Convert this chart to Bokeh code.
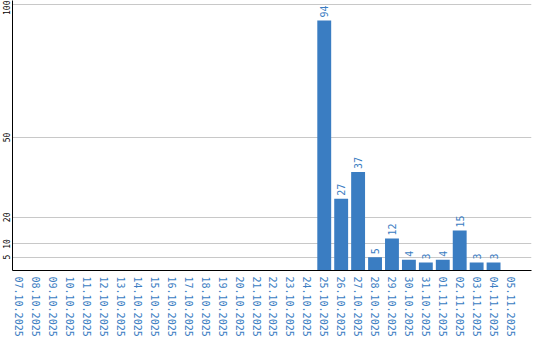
import math
from bokeh.plotting import figure
from bokeh.models import ColumnDataSource, FixedTicker, Range1d
from bokeh.core.properties import value
from bokeh.embed import file_html
from bokeh.resources import INLINE

dates = ["07.10.2025", "08.10.2025", "09.10.2025", "10.10.2025", "11.10.2025",
         "12.10.2025", "13.10.2025", "14.10.2025", "15.10.2025", "16.10.2025",
         "17.10.2025", "18.10.2025", "19.10.2025", "20.10.2025", "21.10.2025",
         "22.10.2025", "23.10.2025", "24.10.2025", "25.10.2025", "26.10.2025",
         "27.10.2025", "28.10.2025", "29.10.2025", "30.10.2025", "31.10.2025",
         "01.11.2025", "02.11.2025", "03.11.2025", "04.11.2025", "05.11.2025"]
counts = [0, 0, 0, 0, 0, 0, 0, 0, 0, 0, 0, 0, 0, 0, 0, 0, 0, 0,
          94, 27, 37, 5, 12, 4, 3, 4, 15, 3, 3, 0]
y_ticks = [5, 10, 20, 50, 100]

BLUE = "#3a7dc2"
FONT = "DejaVu Sans Mono"

idx = list(range(len(dates)))
src = ColumnDataSource(dict(x=idx, top=counts))
nz = [i for i in idx if counts[i] > 0]
lab = ColumnDataSource(dict(x=nz, y=[counts[i] for i in nz],
                            t=[str(counts[i]) for i in nz]))

p = figure(width=540, height=340, output_backend="svg", toolbar_location=None,
           x_range=Range1d(-0.41, 30.24), y_range=Range1d(0, 101.5),
           min_border_left=10, min_border_right=9, min_border_top=0,
           min_border_bottom=70)
p.outline_line_color = None
p.background_fill_color = "white"

p.vbar(x="x", top="top", width=0.82, source=src, color=BLUE, line_color=None)
p.text(x="x", y="y", text="t", source=lab, angle=math.pi / 2,
       text_align="left", text_baseline="middle", y_offset=-3,
       text_color=BLUE, text_font=value(FONT), text_font_size="10px")

xa = p.xaxis[0]
xa.ticker = FixedTicker(ticks=idx)
xa.major_label_overrides = {i: d for i, d in zip(idx, dates)}
xa.major_label_orientation = "vertical"
xa.major_label_text_color = BLUE
xa.major_label_text_font = FONT
xa.major_label_text_font_size = "10px"
xa.major_tick_line_color = None
xa.minor_tick_line_color = None
xa.major_tick_out = 0
xa.major_label_standoff = 6
xa.axis_line_color = "black"

ya = p.yaxis[0]
ya.ticker = FixedTicker(ticks=y_ticks)
ya.major_label_orientation = "parallel"
ya.major_label_text_color = "black"
ya.major_label_text_font = FONT
ya.major_label_text_font_size = "8px"
ya.major_tick_line_color = None
ya.minor_tick_line_color = None
ya.major_tick_out = 0
ya.major_label_standoff = 2
ya.axis_line_color = "black"

p.xgrid.grid_line_color = None
p.ygrid.grid_line_color = "#c8c8c8"
p.ygrid.ticker = FixedTicker(ticks=y_ticks)

open("out.html", "w").write(file_html(p, INLINE))
